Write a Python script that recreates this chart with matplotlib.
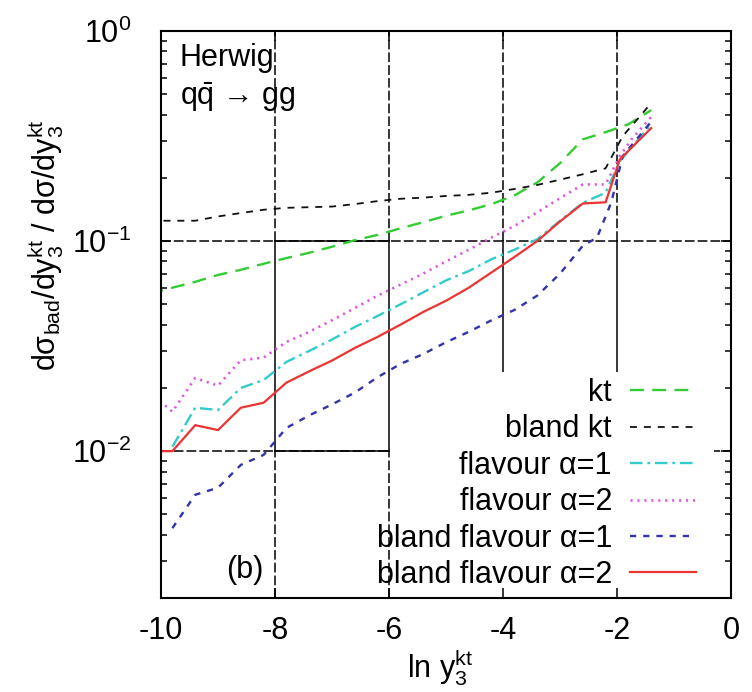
import math
import matplotlib
matplotlib.use("Agg")
import matplotlib.pyplot as plt
from matplotlib.patches import Rectangle
from matplotlib.ticker import FixedLocator, FixedFormatter, LogLocator, NullFormatter

plt.rcParams['font.family'] = ['Liberation Sans', 'DejaVu Sans']
plt.rcParams['mathtext.fontset'] = 'custom'
plt.rcParams['mathtext.rm'] = 'Liberation Sans'
plt.rcParams['mathtext.it'] = 'Liberation Sans'
plt.rcParams['mathtext.bf'] = 'Liberation Sans:bold'
plt.rcParams['axes.unicode_minus'] = False
plt.rcParams['lines.scale_dashes'] = False

# ---------------- data ----------------
x_main = [-10.2, -9.8, -9.4, -9.0, -8.6, -8.2, -7.8, -7.4, -7.0, -6.6, -6.2,
          -5.8, -5.4, -5.0, -4.6, -4.2, -3.8, -3.4, -3.0, -2.6, -2.2]

kt_x = x_main + [-1.8, -1.4]
kt_y = [0.056, 0.060, 0.064, 0.069, 0.073, 0.078, 0.083, 0.088, 0.094, 0.101,
        0.107, 0.115, 0.123, 0.132, 0.140, 0.150, 0.165, 0.190, 0.235, 0.305,
        0.330, 0.360, 0.420]

bkt_x = x_main + [-1.9, -1.6, -1.4]
bkt_y = [0.125, 0.125, 0.125, 0.131, 0.136, 0.141, 0.144, 0.145, 0.146, 0.150,
         0.155, 0.159, 0.161, 0.164, 0.166, 0.170, 0.177, 0.185, 0.196, 0.208,
         0.222, 0.316, 0.392, 0.454]

fl1_x = x_main[1:] + [-1.95, -1.4]
fl1_y = [0.0105, 0.0161, 0.0157, 0.0200, 0.0218, 0.0266, 0.030, 0.034, 0.039,
         0.044, 0.050, 0.057, 0.065, 0.072, 0.082, 0.091, 0.102, 0.125, 0.152,
         0.170, 0.240, 0.360]

fl2_x = x_main + [-1.95, -1.75, -1.4]
fl2_y = [0.0192, 0.0154, 0.0223, 0.0205, 0.0271, 0.0279, 0.0331, 0.037, 0.042,
         0.048, 0.055, 0.062, 0.070, 0.080, 0.091, 0.104, 0.118, 0.137, 0.160,
         0.186, 0.186, 0.254, 0.304, 0.390]

bfl1_x = x_main[1:-1] + [-2.35, -2.1, -1.9, -1.4]
bfl1_y = [0.0043, 0.0062, 0.0067, 0.0086, 0.0096, 0.0129, 0.0148, 0.0167, 0.019,
          0.0225, 0.026, 0.029, 0.033, 0.037, 0.042, 0.047, 0.055, 0.070, 0.095,
          0.104, 0.153, 0.254, 0.37]

bfl2_x = x_main + [-1.95, -1.4]
bfl2_y = [0.0100, 0.0100, 0.0133, 0.0126, 0.0161, 0.0170, 0.0212, 0.024, 0.027,
          0.031, 0.035, 0.040, 0.046, 0.052, 0.060, 0.071, 0.084, 0.100, 0.124,
          0.151, 0.153, 0.245, 0.345]

labels = ['kt', 'bland kt', 'flavour α=1', 'flavour α=2',
          'bland flavour α=1', 'bland flavour α=2']

x_ticks = [-10, -8, -6, -4, -2, 0]
x_ticklabels = ['-10', '-8', '-6', '-4', '-2', '0']
y_ticks = [1.0, 0.1, 0.01]
y_ticklabels = [r'10$^{0}$', r'10$^{-1}$', r'10$^{-2}$']
x_grid = [-8, -6, -4, -2]
y_grid = [0.1, 0.01]

# ---------------- figure ----------------
FS = 22
YMIN, YMAX = 0.002, 1.0
fig = plt.figure(figsize=(7.52, 6.92), dpi=100)
ax = fig.add_axes([0.2141, 0.1358, 0.7580, 0.8194])
ax.set_xlim(-10, 0)
ax.set_ylim(YMIN, YMAX)
ax.set_yscale('log')


def yfrac(v):
    lo, hi = math.log10(YMIN), math.log10(YMAX)
    return (math.log10(v) - lo) / (hi - lo)


def xfrac(v):
    return (v + 10) / 10.0


# grid (gnuplot-like: dashed with some solid pieces)
gdash = (0, (7, 2.2))
glw = 1.1
for gx in x_grid:
    ax.axvline(gx, yfrac(0.1), 1.0, color='black', lw=glw, linestyle=gdash, zorder=1)
    ax.axvline(gx, yfrac(0.01), yfrac(0.1), color='black', lw=glw, zorder=1)
    ax.axvline(gx, 0.0, yfrac(0.01), color='black', lw=glw, linestyle=gdash, zorder=1)
for gy in y_grid:
    ax.axhline(gy, 0.0, 1.0, color='black', lw=glw, linestyle=gdash, zorder=1)
    ax.axhline(gy, xfrac(-8), xfrac(-6), color='black', lw=glw, zorder=1)

# white key box
ax.add_patch(Rectangle((0.4035, 0.0), 0.5665, 0.3986, transform=ax.transAxes,
                       facecolor='white', edgecolor='none', zorder=1.5))

lines = []
l, = ax.plot(kt_x, kt_y, color='#33cc33', lw=1.7, linestyle=(0, (10, 6)), zorder=3)
lines.append(l)
l, = ax.plot(bkt_x, bkt_y, color='#111111', lw=1.3, linestyle=(0, (5, 5)), zorder=3)
lines.append(l)
l, = ax.plot(fl1_x, fl1_y, color='#33cccc', lw=1.7, linestyle=(0, (9, 3.5, 2, 3.5)), zorder=3)
lines.append(l)
l, = ax.plot(fl2_x, fl2_y, color='#dd55dd', lw=1.9, linestyle=(0, (1.5, 3.5)), zorder=3)
lines.append(l)
l, = ax.plot(bfl1_x, bfl1_y, color='#3333aa', lw=1.7, linestyle=(0, (4.5, 5)), zorder=3)
lines.append(l)
l, = ax.plot(bfl2_x, bfl2_y, color='#ee3333', lw=1.6, zorder=4)
lines.append(l)

# ticks
ax.xaxis.set_major_locator(FixedLocator(x_ticks))
ax.xaxis.set_major_formatter(FixedFormatter(x_ticklabels))
ax.yaxis.set_major_locator(FixedLocator(y_ticks))
ax.yaxis.set_major_formatter(FixedFormatter(y_ticklabels))
ax.yaxis.set_minor_locator(LogLocator(base=10, subs=range(2, 10)))
ax.yaxis.set_minor_formatter(NullFormatter())
ax.tick_params(which='both', direction='in', top=True, right=True, width=1.1, colors='black')
ax.tick_params(which='major', length=7)
ax.tick_params(which='minor', length=4)
ax.tick_params(axis='x', labelsize=FS, pad=13)
ax.tick_params(axis='y', labelsize=FS, pad=21)
for s in ax.spines.values():
    s.set_linewidth(1.5)
    s.set_zorder(6)

# labels
fig.text(0.0612, 0.646,
         r'd$\mathrm{σ_{bad}}$/dy$_3^{\mathrm{kt}}$ / d$\mathrm{σ}$/dy$_3^{\mathrm{kt}}$',
         rotation=90, ha='center', va='center', fontsize=FS)
fig.text(0.585, 0.021, r'ln y$_3^{\mathrm{kt}}$', ha='center', va='baseline', fontsize=FS)

ax.text(0.0333, 0.938, 'Herwig', transform=ax.transAxes, fontsize=FS,
        ha='left', va='baseline', zorder=7)
ax.text(0.0333, 0.8695, r'q$\bar{\mathrm{q}}$ → gg', transform=ax.transAxes, fontsize=FS,
        ha='left', va='baseline', zorder=7)
ax.text(0.147, 0.049, '(b)', transform=ax.transAxes, fontsize=FS,
        ha='center', va='center', zorder=7)

leg = ax.legend(lines, labels, loc='upper right', bbox_to_anchor=(0.9386, 0.388),
                frameon=False, fontsize=FS, markerfirst=False, handlelength=2.16,
                handletextpad=0.59, labelspacing=0.21, borderpad=0, borderaxespad=0)
leg.set_zorder(8)

fig.savefig('out.png', dpi=100)
